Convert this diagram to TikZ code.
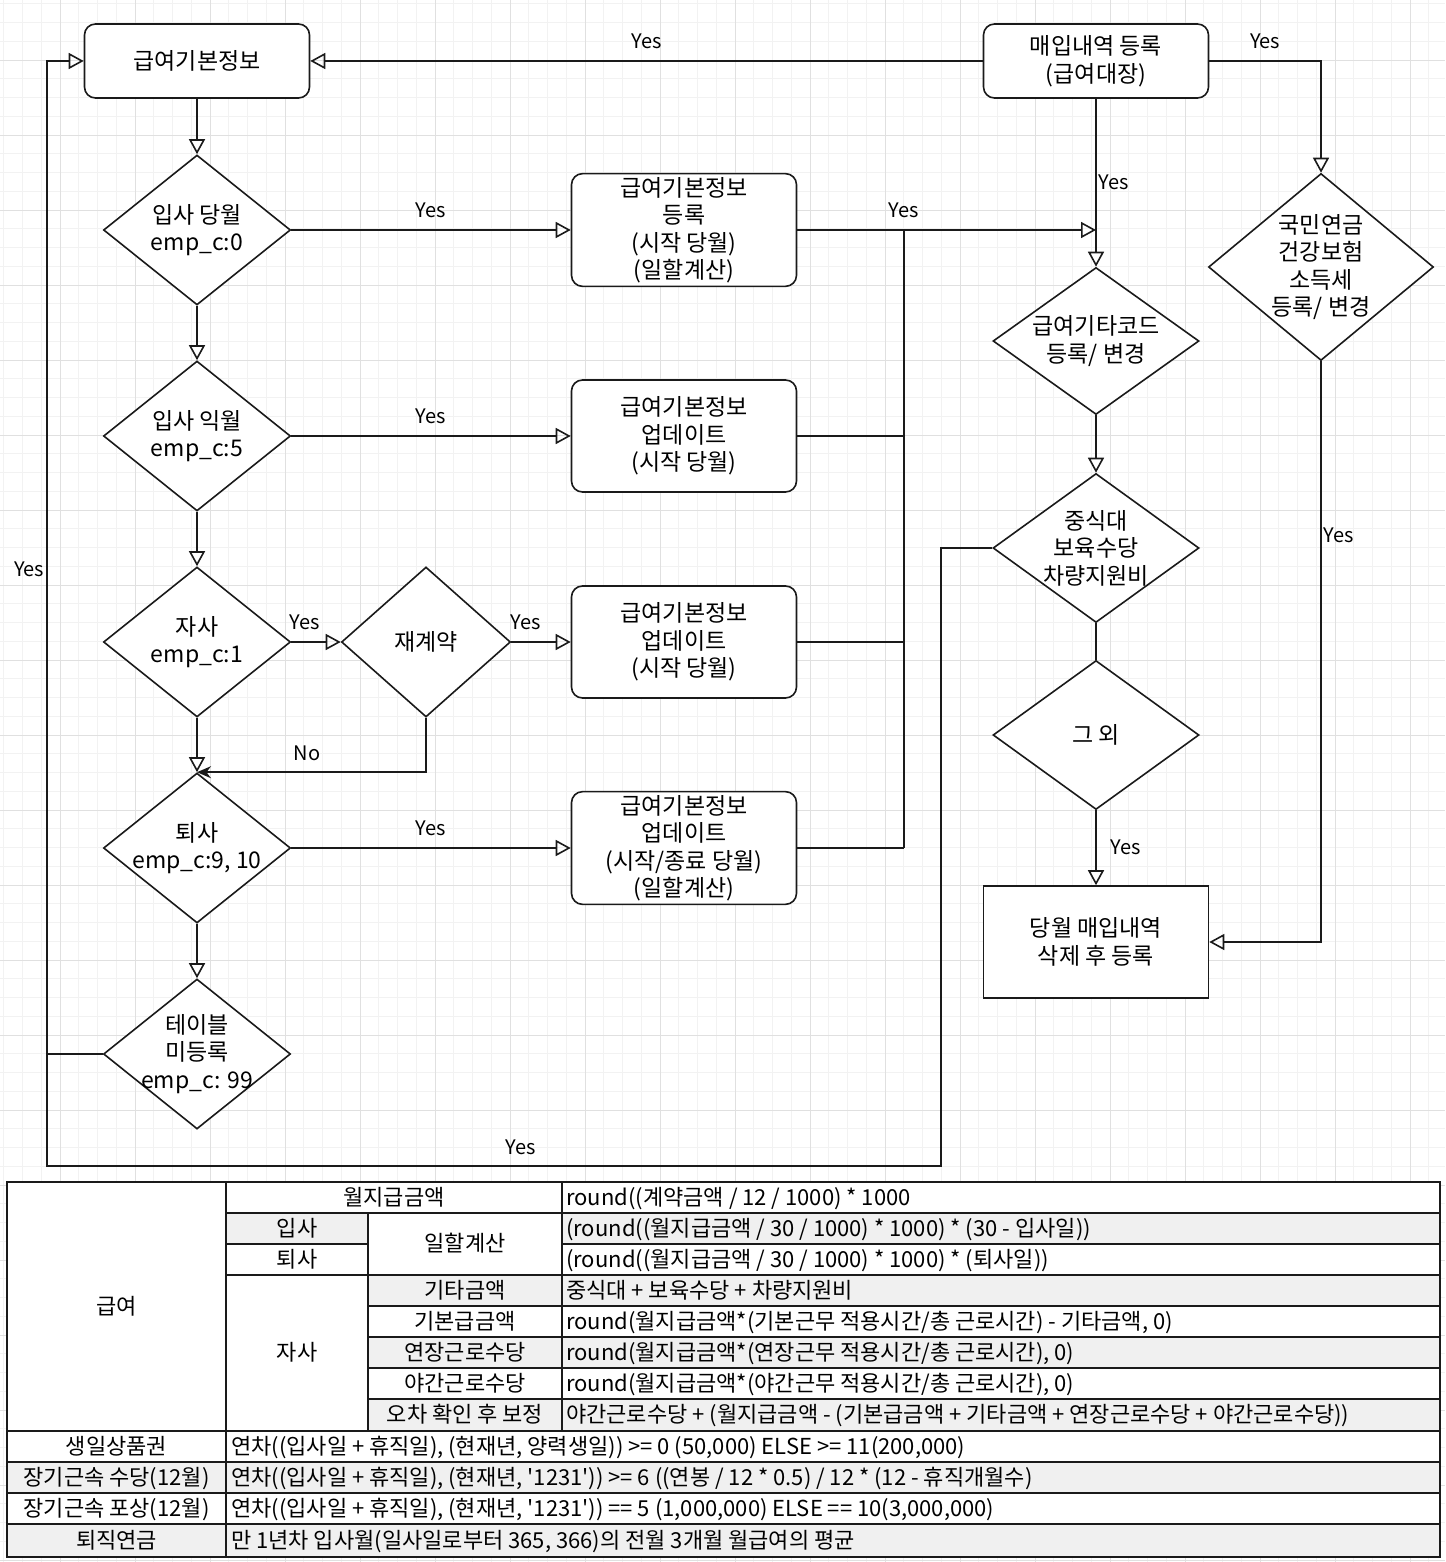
\documentclass[tikz,border=0pt]{standalone}
\usepackage{fontspec}
\setmainfont{Noto Sans CJK KR}
\usetikzlibrary{positioning,shapes.geometric,arrows.meta}
\newdimen\rowStep
\newcommand\flowfont{\fontsize{23}{27.5}\selectfont}
\newcommand\lblfont{\fontsize{20}{24}\selectfont}
\newcommand\tabfont{\fontsize{22}{26}\selectfont}
\definecolor{gridmajor}{HTML}{E0E0E0}
\definecolor{gridminor}{HTML}{F2F2F2}
\definecolor{cellgrey}{HTML}{F0F0F0}
\definecolor{ink}{HTML}{1A1A1A}

\begin{document}
\rowStep=206pt
\begin{tikzpicture}[x=1pt, y=1pt,
    dia/.style={%
      draw=ink,
      fill=white,
      diamond,
      line width=1.6pt,
      minimum width=187pt,
      minimum height=150pt,
      inner sep=-40pt,
      align=center,
      font=\flowfont,
    },
    box/.style={%
      draw=ink,
      fill=white,
      rectangle,
      rounded corners=11pt,
      line width=1.6pt,
      minimum width=225pt,
      minimum height=112pt,
      align=center,
      font=\flowfont,
    },
    link/.style={draw=ink, line width=1.6pt},
    flow/.style={link, -{Triangle[open, length=15pt, width=16pt]}},
    yes/.style={font=\lblfont, inner sep=0pt},
    cell/.style={font=\tabfont, inner sep=0pt, text height=17pt, text depth=2pt},
    rule/.style={draw=ink, line width=1.4pt},
    boldrule/.style={draw=ink, line width=2.6pt},
  ]

    \useasboundingbox (0,0) rectangle (1445,-1562);
    \fill[white] (0,0) rectangle (1445,-1562);
    \draw[gridminor, line width=0.6pt, shift={(60,-60)}] (-60,60) grid[step=18.75pt] (1385,-1502);
    \draw[gridmajor, line width=0.8pt, shift={(60,-60)}] (-60,60) grid[step=75pt] (1385,-1502);

    % left column
    \node [box, minimum height=74pt] (a) at (197,-61) {급여기본정보};
    \path (a) ++(0,-169) node [dia] (d1) {입사 당월\\emp\_c:0};
    \path (d1) ++(0,-\rowStep) node [dia] (d2) {입사 익월\\emp\_c:5};
    \path (d2) ++(0,-\rowStep) node [dia] (d3) {자사\\emp\_c:1};
    \path (d3) ++(0,-\rowStep) node [dia] (d5) {퇴사\\emp\_c:9, 10};
    \path (d5) ++(0,-\rowStep) node [dia] (d6) {테이블\\미등록\\emp\_c: 99};
    \path (d3) ++(229,0) node [dia, minimum width=169pt] (d4) {재계약};

    \path (d1) ++(487,0) node [box] (b1) {급여기본정보\\등록\\(시작 당월)\\(일할계산)};
    \path (d2) ++(487,0) node [box] (b2) {급여기본정보\\업데이트\\(시작 당월)};
    \path (d3) ++(487,0) node [box] (b3) {급여기본정보\\업데이트\\(시작 당월)};
    \path (d5) ++(487,0) node [box] (b4) {급여기본정보\\업데이트\\(시작/종료 당월)\\(일할계산)};

    % right column
    \node [box, minimum height=74pt] (buy) at (1096,-61) {매입내역 등록\\(급여대장)};
    \node [dia, minimum width=206pt, minimum height=147pt] (d7) at (1096,-341) {급여기타코드\\등록/ 변경};
    \path (d7) ++(0,-207) node [dia, minimum width=206pt, minimum height=149pt] (d8) {중식대\\보육수당\\차량지원비};
    \path (d8) ++(0,-187) node [dia, minimum width=206pt, minimum height=149pt] (d9) {그 외};
    \path (d9) ++(0,-207) node [box, sharp corners] (c) {당월 매입내역\\삭제 후 등록};
    \node [dia, minimum width=225pt, minimum height=187pt] (d10) at (1321,-267) {국민연금\\건강보험\\소득세\\등록/ 변경};

    \coordinate (bus) at (904,-230);
    \coordinate (loopR) at (941,-1166);
    \coordinate (loopL) at (47,-1166);

    \draw [flow] (a) -- (d1);
    \draw [flow] (d1) -- (d2);
    \draw [flow] (d2) -- (d3);
    \draw [flow] (d3) -- (d5);
    \draw [flow] (d5) -- (d6);
    \draw [flow] (d1) -- node [yes, above=11pt] {Yes} (b1);
    \draw [flow] (d2) -- node [yes, above=11pt] {Yes} (b2);
    \draw [flow] (d3) -- node [yes, above=11pt, pos=.27] {Yes} (d4);
    \draw [flow] (d4) -- node [yes, above=11pt, pos=.24] {Yes} (b3);
    \draw [flow] (d5) -- node [yes, above=11pt] {Yes} (b4);
    \draw [link, -{Stealth[length=14pt, width=12pt]}] (d4.south) |- node [yes, above=11pt, pos=.76] {No} (d5.north);

    \draw [flow] (buy) -- node [yes, above=11pt] {Yes} (a);
    \draw [flow] (buy.east) -| node [yes, above=11pt, pos=.25] {Yes} (d10.north);
    \draw [flow] (buy) -- node [yes, right=2pt] {Yes} (d7);
    \draw [flow] (b1.east) -- node [yes, above=11pt, pos=.355] {Yes} (b1.east -| d7.north);
    \draw [link] (bus) -- (bus |- b4.east);
    \foreach \b in {b2,b3,b4}
      \draw [link] (\b.east) -- (\b.east -| bus);

    \draw [flow] (d7) -- (d8);
    \draw [link] (d8) -- (d9);
    \draw [flow] (d9) -- node [yes, right=14pt] {Yes} (c);
    \draw [flow] (d10.south) |- node [yes, right=2pt, pos=.15] {Yes} (c.east);

    \draw [flow] (d8.west) -| (loopR) -- node [yes, above=10pt, pos=.47] {Yes} (loopL)
      |- node [yes, left=2pt, pos=.27] {Yes} (a.west);
    \draw [link] (d6.west) -- (d6.west -| loopL);

    % table
    \fill[white] (7,-1182) rectangle (1440,-1557);
    \fill[cellgrey] (562,-1213) rectangle (1440,-1244);
    \fill[cellgrey] (562,-1275) rectangle (1440,-1306);
    \fill[cellgrey] (562,-1337) rectangle (1440,-1368);
    \fill[cellgrey] (562,-1399) rectangle (1440,-1431);
    \fill[cellgrey] (226,-1213) rectangle (368,-1244);
    \fill[cellgrey] (368,-1275) rectangle (562,-1306);
    \fill[cellgrey] (368,-1337) rectangle (562,-1368);
    \fill[cellgrey] (368,-1399) rectangle (562,-1431);
    \fill[cellgrey] (7,-1462) rectangle (1440,-1493);
    \fill[cellgrey] (7,-1524) rectangle (1440,-1557);

    \draw [rule] (226,-1213) -- (1440,-1213);
    \draw [rule] (226,-1244) -- (368,-1244);
    \draw [rule] (562,-1244) -- (1440,-1244);
    \draw [rule] (226,-1275) -- (1440,-1275);
    \foreach \y in {1306,1337,1368,1399}
      \draw [rule] (368,-\y) -- (1440,-\y);
    \foreach \y in {1462,1493,1524}
      \draw [rule] (7,-\y) -- (1440,-\y);
    \draw [rule] (368,-1213) -- (368,-1431);
    \draw [rule] (562,-1182) -- (562,-1431);
    \draw [boldrule] (226,-1182) -- (226,-1557);
    \draw [boldrule] (7,-1431) -- (1440,-1431);
    \draw [boldrule] (7,-1182) rectangle (1440,-1557);

    \node [cell] (tpay) at (116.5,-1306.5) {급여};
    \node [cell] (tmon) at (394,-1197.5) {월지급금액};
    \node [cell] (tin) at (297,-1228.5) {입사};
    \node [cell] (tout) at (297,-1259.5) {퇴사};
    \node [cell] (tday) at (465,-1244) {일할계산};
    \node [cell] (town) at (297,-1353) {자사};
    \node [cell] (tetc) at (465,-1290.5) {기타금액};
    \node [cell] (tbase) at (465,-1321.5) {기본급금액};
    \node [cell] (tover) at (465,-1352.5) {연장근로수당};
    \node [cell] (tnight) at (465,-1383.5) {야간근로수당};
    \node [cell] (tfix) at (465,-1415) {오차 확인 후 보정};

    \node [cell, anchor=west] (fmon) at (566,-1197.5) {round((계약금액 / 12 / 1000) * 1000};
    \node [cell, anchor=west] (fin) at (566,-1228.5) {(round((월지급금액 / 30 / 1000) * 1000) * (30 - 입사일))};
    \node [cell, anchor=west] (fout) at (566,-1259.5) {(round((월지급금액 / 30 / 1000) * 1000) * (퇴사일))};
    \node [cell, anchor=west] (fetc) at (566,-1290.5) {중식대 + 보육수당 + 차량지원비};
    \node [cell, anchor=west] (fbase) at (566,-1321.5) {round(월지급금액*(기본근무 적용시간/총 근로시간) - 기타금액, 0)};
    \node [cell, anchor=west] (fover) at (566,-1352.5) {round(월지급금액*(연장근무 적용시간/총 근로시간), 0)};
    \node [cell, anchor=west] (fnight) at (566,-1383.5) {round(월지급금액*(야간근무 적용시간/총 근로시간), 0)};
    \node [cell, anchor=west] (ffix) at (566,-1415) {야간근로수당 + (월지급금액 - (기본급금액 + 기타금액 + 연장근로수당 + 야간근로수당))};

    \node [cell] (tbirth) at (116.5,-1446.5) {생일상품권};
    \node [cell] (tlong) at (116.5,-1477.5) {장기근속 수당(12월)};
    \node [cell] (taward) at (116.5,-1508.5) {장기근속 포상(12월)};
    \node [cell] (tret) at (116.5,-1540.5) {퇴직연금};
    \node [cell, anchor=west] (fbirth) at (231,-1446.5) {연차((입사일 + 휴직일), (현재년, 양력생일)) >= 0 (50,000) ELSE >= 11(200,000)};
    \node [cell, anchor=west] (flong) at (231,-1477.5) {연차((입사일 + 휴직일), (현재년, \textquotesingle 1231\textquotesingle)) >= 6 ((연봉 / 12 * 0.5) / 12 * (12 - 휴직개월수)};
    \node [cell, anchor=west] (faward) at (231,-1508.5) {연차((입사일 + 휴직일), (현재년, \textquotesingle 1231\textquotesingle)) == 5 (1,000,000) ELSE == 10(3,000,000)};
    \node [cell, anchor=west] (fret) at (231,-1540.5) {만 1년차 입사월(일사일로부터 365, 366)의 전월 3개월 월급여의 평균};
\end{tikzpicture}
\end{document}
